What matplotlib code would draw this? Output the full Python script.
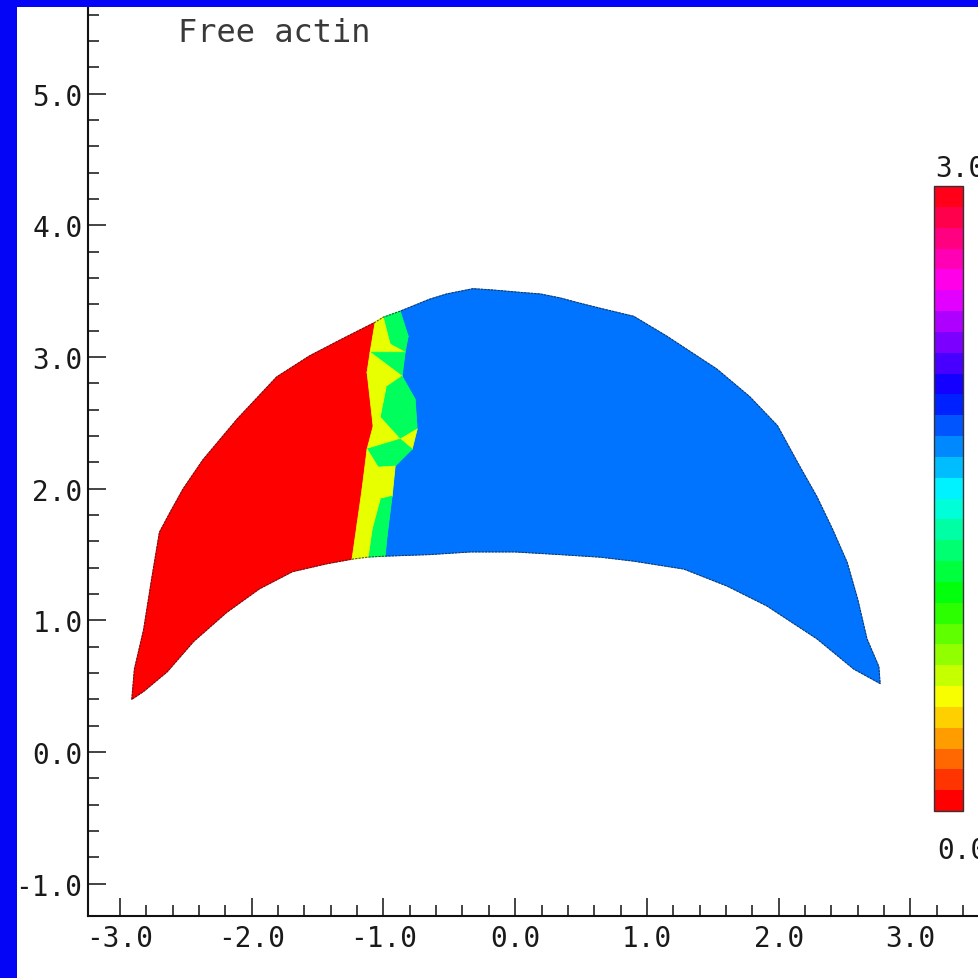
import numpy as np
import matplotlib
matplotlib.use("Agg")
import matplotlib.pyplot as plt
from matplotlib.collections import PolyCollection
from matplotlib.colors import Normalize
from matplotlib.cm import ScalarMappable

# ---------------- data: finite-element field "Free actin" ----------------
title_text = "Free actin"
vmin, vmax = 0.0, 3.0

# outer (top) boundary, left tip -> red/band junction
outer_left_x = [-2.91, -2.89, -2.82, -2.76, -2.70, -2.62, -2.52, -2.37, -2.11, -1.81, -1.56, -1.31, -1.063]
outer_left_y = [0.40, 0.63, 0.93, 1.31, 1.67, 1.82, 2.00, 2.22, 2.53, 2.85, 3.01, 3.14, 3.265]
# outer boundary, band/blue junction -> right tip
outer_right_x = [-0.873, -0.65, -0.52, -0.32, -0.17, 0.06, 0.19, 0.34, 0.49, 0.65, 0.90, 1.15, 1.53,
                 1.78, 1.99, 2.16, 2.29, 2.41, 2.52, 2.60, 2.67, 2.76, 2.77]
outer_right_y = [3.349, 3.44, 3.48, 3.52, 3.51, 3.49, 3.48, 3.45, 3.41, 3.37, 3.31, 3.16, 2.91,
                 2.70, 2.48, 2.17, 1.94, 1.69, 1.44, 1.16, 0.86, 0.65, 0.52]
# inner (bottom) boundary, right tip -> blue/band junction
inner_right_x = [2.77, 2.57, 2.29, 1.91, 1.61, 1.28, 0.90, 0.65, 0.34, 0.00, -0.34, -0.65, -0.987]
inner_right_y = [0.52, 0.63, 0.86, 1.11, 1.26, 1.39, 1.45, 1.48, 1.50, 1.52, 1.52, 1.50, 1.488]
# inner boundary, band/red junction -> left tip
inner_left_x = [-1.238, -1.43, -1.69, -1.94, -2.19, -2.44, -2.64, -2.82, -2.91]
inner_left_y = [1.465, 1.43, 1.37, 1.24, 1.06, 0.84, 0.61, 0.46, 0.40]

# band nodes: red/band divide (L), band/blue divide (R), interior nodes (M)
L_x = [-1.063, -1.101, -1.124, -1.078, -1.124, -1.162, -1.200, -1.238]
L_y = [3.265, 3.037, 2.885, 2.475, 2.301, 1.997, 1.731, 1.465]
R_x = [-0.873, -0.812, -0.835, -0.858, -0.759, -0.744, -0.782, -0.911, -0.934, -0.972, -0.987]
R_y = [3.349, 3.159, 3.037, 2.855, 2.680, 2.453, 2.301, 2.172, 1.944, 1.640, 1.488]
M_x = [-1.002, -0.949, -0.980, -1.025, -0.873, -1.040, -1.025, -1.086, -1.116]
M_y = [3.303, 3.098, 2.771, 2.544, 2.377, 2.164, 1.921, 1.693, 1.481]

# region values
red_value = 0.0
blue_value = 1.8
yellow_value = 0.56
green_value = 1.2

band_triangles = [
    (("M0", "R0", "R1"), green_value), (("M0", "R1", "M1"), green_value), (("M1", "R1", "R2"), green_value),
    (("L0", "M0", "M1"), yellow_value), (("L0", "M1", "L1"), yellow_value), (("L1", "M1", "R2"), yellow_value),
    (("L1", "R2", "R3"), green_value),
    (("L1", "R3", "L2"), yellow_value), (("L2", "R3", "M2"), yellow_value),
    (("M2", "R3", "R4"), green_value), (("M2", "R4", "R5"), green_value), (("M2", "R5", "M3"), green_value),
    (("M3", "R5", "M4"), green_value),
    (("L2", "M2", "M3"), yellow_value), (("L2", "M3", "L3"), yellow_value), (("L3", "M3", "M4"), yellow_value),
    (("L3", "M4", "L4"), yellow_value), (("M4", "R5", "R6"), yellow_value),
    (("L4", "M4", "R6"), green_value), (("L4", "R6", "R7"), green_value), (("L4", "R7", "M5"), green_value),
    (("L4", "M5", "L5"), yellow_value), (("M5", "R7", "R8"), yellow_value), (("L5", "M5", "M6"), yellow_value),
    (("M5", "R8", "M6"), yellow_value),
    (("M6", "R8", "R9"), green_value), (("M6", "R9", "M7"), green_value), (("M7", "R9", "R10"), green_value),
    (("M7", "R10", "M8"), green_value),
    (("L5", "M6", "L6"), yellow_value), (("L6", "M6", "M7"), yellow_value), (("L6", "M7", "L7"), yellow_value),
    (("L7", "M7", "M8"), yellow_value),
]

# ---------------- build geometry ----------------
nodes = {}
for pre, xs, ys in (("L", L_x, L_y), ("R", R_x, R_y), ("M", M_x, M_y)):
    for i, (a, b) in enumerate(zip(xs, ys)):
        nodes[f"{pre}{i}"] = (a, b)

red_poly = (list(zip(outer_left_x, outer_left_y)) + list(zip(L_x, L_y))[1:]
            + list(zip(inner_left_x, inner_left_y))[1:])
blue_poly = (list(zip(outer_right_x, outer_right_y)) + list(zip(inner_right_x, inner_right_y))[1:]
             + list(zip(R_x, R_y))[::-1][1:-1])

polys = [red_poly, blue_poly]
vals = [red_value, blue_value]
for tri, v in band_triangles:
    polys.append([nodes[k] for k in tri])
    vals.append(v)

outline_x = (outer_left_x + [M_x[0]] + outer_right_x + inner_right_x[1:] + [M_x[-1]]
             + inner_left_x)
outline_y = (outer_left_y + [M_y[0]] + outer_right_y + inner_right_y[1:] + [M_y[-1]]
             + inner_left_y)

# ---------------- figure ----------------
W = H = 979
dpi = 100
fig = plt.figure(figsize=(W / dpi, H / dpi), dpi=dpi, facecolor="white")

ax_left, ax_bottom_px = 88, 917
ax = fig.add_axes([ax_left / W, (H - ax_bottom_px) / H, (W - ax_left) / W, ax_bottom_px / H])
ax.set_facecolor("white")
ax.set_xlim(-3.242, 3.52)
ax.set_ylim(-1.245, 5.72)

cmap = plt.get_cmap("hsv")
norm = Normalize(vmin, vmax)
pc = PolyCollection(polys, array=np.array(vals), cmap=cmap, norm=norm,
                    edgecolors="face", linewidths=0.6, antialiaseds=True)
ax.add_collection(pc)
ax.plot(outline_x, outline_y, color="#1a1a1a", lw=0.8, alpha=0.7, ls=(0, (2, 1)), zorder=3)

mono = "DejaVu Sans Mono"
ax.spines["top"].set_visible(False)
ax.spines["right"].set_visible(False)
for s in ("left", "bottom"):
    ax.spines[s].set_linewidth(1.5)
    ax.spines[s].set_color("#111111")

xt = [-3, -2, -1, 0, 1, 2, 3]
yt = [-1, 0, 1, 2, 3, 4, 5]
ax.set_xticks(xt)
ax.set_xticklabels([f"{v:.1f}" for v in xt])
ax.set_yticks(yt)
ax.set_yticklabels([f"{v:.1f}" for v in yt])
ax.set_xticks(np.arange(-3.0, 3.6, 0.2), minor=True)
ax.set_yticks(np.arange(-1.0, 5.8, 0.2), minor=True)
ax.tick_params(which="major", direction="in", length=13, width=1.1, color="#111111",
               labelsize=20, labelcolor="#1a1a1a")
ax.tick_params(which="minor", direction="in", length=8, width=1.1, color="#111111")
ax.tick_params(axis="x", which="major", pad=6)
ax.tick_params(axis="y", which="major", pad=4)
for lab in ax.get_xticklabels() + ax.get_yticklabels():
    lab.set_family(mono)

fig.text(178 / W, 1 - 42 / H, title_text, family=mono, fontsize=23, color="#3a3a3a",
         ha="left", va="baseline")

# ---------------- colorbar ----------------
cb_l, cb_r, cb_t, cb_b = 934, 963, 187, 812
cax = fig.add_axes([cb_l / W, (H - cb_b) / H, (cb_r - cb_l) / W, (cb_b - cb_t) / H])
cb = fig.colorbar(ScalarMappable(norm=norm, cmap=cmap.resampled(30)), cax=cax, ticks=[])
cb.outline.set_linewidth(1.0)
cb.outline.set_edgecolor("#333333")
cax.annotate(f"{vmax:.1f}", xy=(0, 1), xycoords="axes fraction", xytext=(1, 7),
             textcoords="offset points", ha="left", va="baseline", family=mono,
             fontsize=20, color="#1a1a1a")
cax.annotate(f"{vmin:.1f}", xy=(0, 0), xycoords="axes fraction", xytext=(2, -34),
             textcoords="offset points", ha="left", va="baseline", family=mono,
             fontsize=20, color="#1a1a1a")

# ---------------- blue frame (left and top) ----------------
blue = "#0404F6"
fig.patches.append(plt.Rectangle((0, 0), 17 / W, 1, transform=fig.transFigure,
                                 facecolor=blue, edgecolor="none", zorder=10))
fig.patches.append(plt.Rectangle((0, 1 - 8 / H), 1, 8 / H, transform=fig.transFigure,
                                 facecolor=blue, edgecolor="none", zorder=10))

fig.savefig("out.png", dpi=dpi, facecolor="white")
